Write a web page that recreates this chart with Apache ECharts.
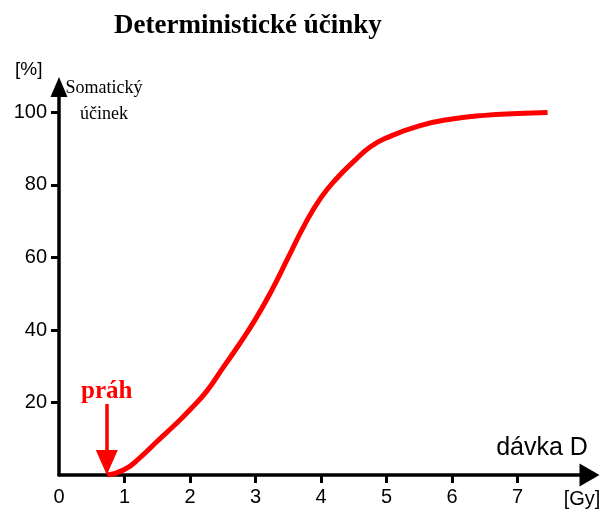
<!DOCTYPE html>
<html><head><meta charset="utf-8">
<script src="https://cdn.jsdelivr.net/npm/echarts@6/dist/echarts.min.js"></script>
<style>html,body{margin:0;padding:0;background:#fff}#c{width:606px;height:514px}</style>
</head><body><div id="c"></div>
<script>
const doseGy = [0.74, 1.0, 1.25, 1.5, 1.75, 2.0, 2.25, 2.5, 2.75, 3.0, 3.25, 3.5, 3.75, 4.0, 4.25, 4.5, 4.75, 5.0, 5.5, 6.0, 6.5, 7.0, 7.46];
const effectPct = [0, 1.5, 5, 9.3, 13.5, 18, 23, 29.5, 36, 43, 51, 60, 69, 76.5, 82, 86.5, 90.5, 93, 96.3, 98.2, 99.2, 99.7, 100];
const xTicks = [0, 1, 2, 3, 4, 5, 6, 7];
const yTicks = [20, 40, 60, 80, 100];
const thresholdDose = 0.73;
const thresholdTop = 19.6;
const thresholdEnd = 3.45;

const chart = echarts.init(document.getElementById('c'));
const sans = 'Liberation Sans';
const serif = 'Liberation Serif';
chart.setOption({
  animation: false,
  backgroundColor: '#fff',
  title: {
    text: 'Deterministické účinky', left: 109, top: 8,
    textStyle: {fontFamily: serif, fontWeight: 'bold', fontSize: 27, color: '#000'}
  },
  grid: {left: 59, top: 87.1, width: 530.5, height: 387.9},
  xAxis: {
    type: 'value', min: 0, max: 8.1, interval: 1,
    splitLine: {show: false},
    axisLine: {lineStyle: {color: '#000', width: 3.5}, symbol: ['none', 'triangle'], symbolSize: [23, 20]},
    axisTick: {show: true, length: 8, lineStyle: {color: '#000', width: 3}, customValues: xTicks.slice(1)},
    axisLabel: {customValues: xTicks, margin: 12, fontFamily: sans, fontSize: 20, color: '#000'}
  },
  yAxis: {
    type: 'value', min: 0, max: 107, interval: 20,
    splitLine: {show: false},
    axisLine: {lineStyle: {color: '#000', width: 3.5}, symbol: ['none', 'triangle'], symbolSize: [17, 20]},
    axisTick: {show: true, length: 8, lineStyle: {color: '#000', width: 3}, customValues: yTicks},
    axisLabel: {customValues: yTicks, margin: 12, fontFamily: sans, fontSize: 20, color: '#000'}
  },
  graphic: [
    {type: 'text', left: 15, top: 60, style: {text: '[%]', fontFamily: sans, fontSize: 19, fill: '#000'}},
    {type: 'text', x: 104, y: 75, style: {text: 'Somatický\núčinek', textAlign: 'center', fontFamily: serif, fontSize: 18, lineHeight: 26, fill: '#000'}},
    {type: 'text', x: 542, y: 436, style: {text: 'dávka D', textAlign: 'center', fontFamily: sans, fontSize: 25, fill: '#000'}},
    {type: 'text', x: 582, y: 489, style: {text: '[Gy]', textAlign: 'center', fontFamily: sans, fontSize: 20, fill: '#000'}}
  ],
  series: [{
    type: 'line',
    data: doseGy.map((d, i) => [d, effectPct[i]]),
    smooth: 0.5,
    showSymbol: false,
    lineStyle: {color: '#ff0000', width: 5},
    markLine: {
      silent: true,
      symbol: ['none', 'triangle'],
      symbolSize: [22, 25],
      lineStyle: {color: '#ff0000', width: 3.5, type: 'solid'},
      label: {show: true, position: 'start', formatter: 'práh', distance: 0,
        fontFamily: serif, fontWeight: 'bold', fontSize: 25, color: '#ff0000'},
      data: [[{coord: [thresholdDose, thresholdTop]}, {coord: [thresholdDose, thresholdEnd]}]]
    }
  }]
});
</script></body></html>
